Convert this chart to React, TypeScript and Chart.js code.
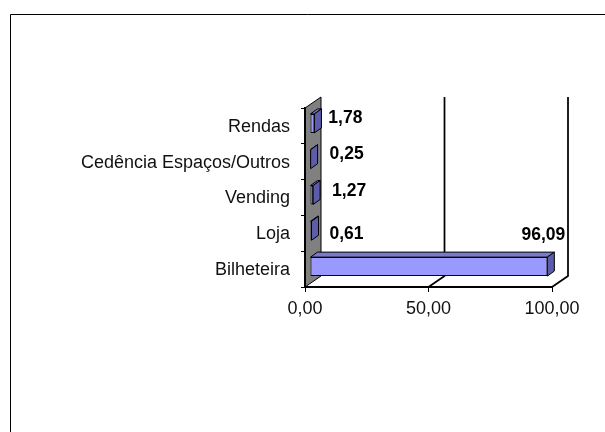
import { useEffect, useRef } from "react";
import { Chart, registerables } from "chart.js";

Chart.register(...registerables);

const categories = ["Rendas", "Cedência Espaços/Outros", "Vending", "Loja", "Bilheteira"];
const values = [1.78, 0.25, 1.27, 0.61, 96.09];
const valueTexts = ["1,78", "0,25", "1,27", "0,61", "96,09"];
const gridValues = [0, 50, 100];

const FONT = '"Liberation Sans", Arial, sans-serif';
const WALL = { dx: 16, dy: -11 };
const BAR_SHIFT = { dx: 5, dy: -2.5 };
const BAR_DEPTH = { dx: 7, dy: -5 };
// Hand-placed value labels, relative to the end of each bar.
const labelNudge = [
  [36, -7.5],
  [41, -7.5],
  [41, -6.5],
  [40, 0.5],
  [1, -33.5],
];

const oblique = {
  id: "oblique",
  beforeDraw(chart: any) {
    const { ctx, chartArea: a, scales } = chart;
    ctx.save();
    // Frame around the figure
    ctx.strokeStyle = "#000";
    ctx.lineWidth = 1;
    ctx.beginPath();
    ctx.moveTo(10.5, 432);
    ctx.lineTo(10.5, 14.5);
    ctx.lineTo(605, 14.5);
    ctx.stroke();

    // Grey side wall
    ctx.fillStyle = "#808080";
    ctx.strokeStyle = "#000";
    ctx.beginPath();
    ctx.moveTo(a.left, a.top);
    ctx.lineTo(a.left + WALL.dx, a.top + WALL.dy);
    ctx.lineTo(a.left + WALL.dx, a.bottom + WALL.dy);
    ctx.lineTo(a.left, a.bottom);
    ctx.closePath();
    ctx.fill();
    ctx.stroke();

    // Gridlines on the back plane and across the floor
    ctx.lineWidth = 1.75;
    gridValues.slice(1).forEach((v) => {
      const x = scales.x.getPixelForValue(v);
      ctx.beginPath();
      ctx.moveTo(x + WALL.dx, a.top + WALL.dy);
      ctx.lineTo(x + WALL.dx, a.bottom + WALL.dy);
      ctx.lineTo(x, a.bottom);
      ctx.stroke();
    });
    ctx.restore();
  },
  beforeDatasetDraw(chart: any) {
    const { ctx } = chart;
    const bars = chart.getDatasetMeta(0).data;
    ctx.save();
    ctx.translate(BAR_SHIFT.dx, BAR_SHIFT.dy);
    ctx.strokeStyle = "#000";
    ctx.lineWidth = 1;
    bars.forEach((bar: any) => {
      const top = bar.y - bar.height / 2;
      const bottom = bar.y + bar.height / 2;
      // Top face
      ctx.fillStyle = "#7a7acc";
      ctx.beginPath();
      ctx.moveTo(bar.base, top);
      ctx.lineTo(bar.base + BAR_DEPTH.dx, top + BAR_DEPTH.dy);
      ctx.lineTo(bar.x + BAR_DEPTH.dx, top + BAR_DEPTH.dy);
      ctx.lineTo(bar.x, top);
      ctx.closePath();
      ctx.fill();
      ctx.stroke();
      // End face
      ctx.fillStyle = "#5c5cab";
      ctx.beginPath();
      ctx.moveTo(bar.x, top);
      ctx.lineTo(bar.x + BAR_DEPTH.dx, top + BAR_DEPTH.dy);
      ctx.lineTo(bar.x + BAR_DEPTH.dx, bottom + BAR_DEPTH.dy);
      ctx.lineTo(bar.x, bottom);
      ctx.closePath();
      ctx.fill();
      ctx.stroke();
    });
  },
  afterDatasetDraw(chart: any) {
    chart.ctx.restore();
  },
  afterDraw(chart: any) {
    const { ctx } = chart;
    const bars = chart.getDatasetMeta(0).data;
    ctx.save();
    ctx.fillStyle = "#000";
    ctx.font = `bold 17.5px ${FONT}`;
    ctx.textAlign = "center";
    ctx.textBaseline = "middle";
    bars.forEach((bar: any, i: number) => {
      const [nx, ny] = labelNudge[i];
      ctx.fillText(valueTexts[i], bar.x + nx, bar.y + ny);
    });
    ctx.restore();
  },
};

export default function App() {
  const ref = useRef<HTMLCanvasElement>(null);
  useEffect(() => {
    const chart = new Chart(ref.current!, {
      type: "bar",
      data: {
        labels: categories,
        datasets: [
          {
            data: values,
            backgroundColor: "#9999ff",
            borderColor: "#000",
            borderWidth: 1,
            borderSkipped: false,
            categoryPercentage: 0.53,
            barPercentage: 1,
            clip: false,
          } as any,
        ],
      },
      options: {
        indexAxis: "y",
        responsive: false,
        animation: false,
        layout: { padding: { top: 108, right: 53, left: 0, bottom: 0 } },
        plugins: { legend: { display: false }, tooltip: { enabled: false } },
        scales: {
          x: {
            min: gridValues[0],
            max: gridValues[2],
            afterFit: (s: any) => {
              s.height = 145;
            },
            afterBuildTicks: (s: any) => {
              s.ticks = gridValues.map((value) => ({ value }));
            },
            grid: { drawOnChartArea: false, tickLength: 5, color: "#000", lineWidth: 1 },
            border: { display: true, color: "#000", width: 2 },
            ticks: {
              color: "#111",
              font: { family: FONT, size: 18 },
              padding: 6,
              maxRotation: 0,
              callback: (v: any) => Number(v).toFixed(2).replace(".", ","),
            },
          },
          y: {
            afterFit: (s: any) => {
              s.width = 305;
            },
            grid: { drawOnChartArea: false, tickLength: 4, color: "#000", lineWidth: 1 },
            border: { display: true, color: "#000", width: 2 },
            ticks: {
              color: "#111",
              font: { family: FONT, size: 18 },
              padding: 11,
              labelOffset: 1,
              autoSkip: false,
            },
          },
        },
      },
      plugins: [oblique],
    } as any);
    return () => chart.destroy();
  }, []);
  return (
    <canvas
      ref={ref}
      width={605}
      height={432}
      style={{ position: "fixed", left: 0, top: 0, display: "block" }}
    />
  );
}
